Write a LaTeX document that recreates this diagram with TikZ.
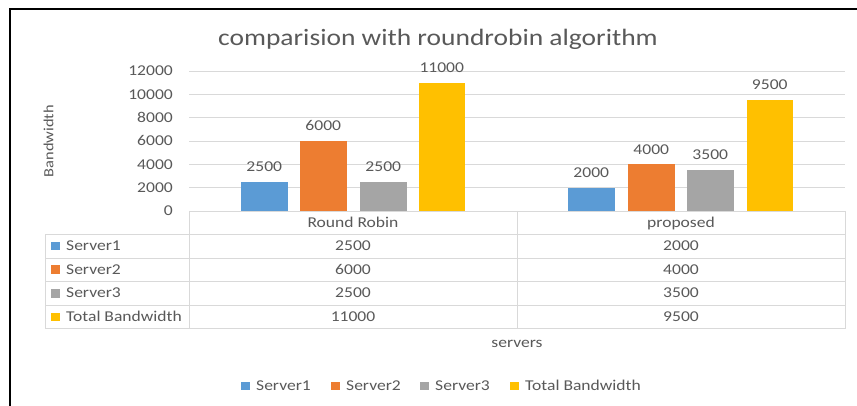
\documentclass[tikz,border=0pt]{standalone}
\usepackage{fontspec}
\setmainfont{Carlito}[FakeStretch=1.17]
\definecolor{sone}{HTML}{5B9BD5}
\definecolor{stwo}{HTML}{ED7D31}
\definecolor{sthree}{HTML}{A5A5A5}
\definecolor{stot}{HTML}{FFC000}
\definecolor{txt}{HTML}{595959}
\definecolor{grid}{HTML}{D9D9D9}
\begin{document}
\begin{tikzpicture}[x=1pt,y=-1pt,
  lbl/.style={inner sep=0pt,font=\fontsize{15}{15}\selectfont,text height=9.5pt,text depth=0pt,text=txt},
  gridline/.style={draw=grid,line width=0.9pt},
  key/.style={minimum width=9pt,minimum height=8.5pt,inner sep=0pt}]
\useasboundingbox[fill=white] (0,0) rectangle (857,406);
\draw[line width=2pt] (10,406) -- (10,9) -- (857,9);
% title
\node[lbl,font=\fontsize{23.5}{23.5}\selectfont,text height=14.8pt] (title) at (438,38) {comparision with roundrobin algorithm};
% y axis title
\node[lbl,rotate=90,font=\fontsize{14}{14}\selectfont,text height=8.8pt] (ytitle) at (49,141) {Bandwidth};
% gridlines
\foreach \k in {1,...,6} \draw[gridline] (189,211-\k*23.333) -- (845,211-\k*23.333);
% y tick labels
\foreach \k/\v in {0/0,1/2000,2/4000,3/6000,4/8000,5/10000,6/12000}
  \node[lbl,anchor=east] (y\k) at (173,211-\k*23.333) {\v};
% bars
\foreach \n/\x/\v/\c in {ra/241/2500/sone,rb/300/6000/stwo,rc/360/2500/sthree,rd/418.5/11000/stot,
                          pa/568/2000/sone,pb/628/4000/stwo,pc/687/3500/sthree,pd/746.5/9500/stot}{
  \fill[\c] (\x,211) rectangle (\x+46.5,211-\v*0.011667);
  \node[lbl] (\n) at (\x+23.25,211-\v*0.011667-15) {\v};
}
% table
\draw[gridline] (189,211) -- (845,211);
\foreach \y in {234.5,258,281.5,305,328.5} \draw[gridline] (45,\y) -- (845,\y);
\draw[gridline] (45,234.5) -- (45,328.5);
\foreach \x in {189,517,845} \draw[gridline] (\x,211) -- (\x,328.5);
\node[lbl] (hrr) at (353,222.5) {Round Robin};
\node[lbl] (hpr) at (681,222.5) {proposed};
\foreach \r/\y/\c/\t/\a/\b in {1/246/sone/Server1/2500/2000,2/269.75/stwo/Server2/6000/4000,
                              3/293.25/sthree/Server3/2500/3500,4/316.75/stot/Total Bandwidth/11000/9500}{
  \node[key,fill=\c] (k\r) at (55.5,\y) {};
  \node[lbl,anchor=west] (t\r) at (66,\y) {\t};
  \node[lbl] (a\r) at (353,\y) {\a};
  \node[lbl] (b\r) at (681,\y) {\b};
}
\node[lbl] (xtitle) at (517,342.3) {servers};
% legend
\foreach \i/\x/\c/\t in {1/241/sone/Server1,2/331/stwo/Server2,3/420/sthree/Server3,4/510/stot/Total Bandwidth}{
  \node[key,fill=\c,anchor=west] (l\i) at (\x,386) {};
  \node[lbl,anchor=west] (lt\i) at (\x+15,385.5) {\t};
}
\end{tikzpicture}
\end{document}
